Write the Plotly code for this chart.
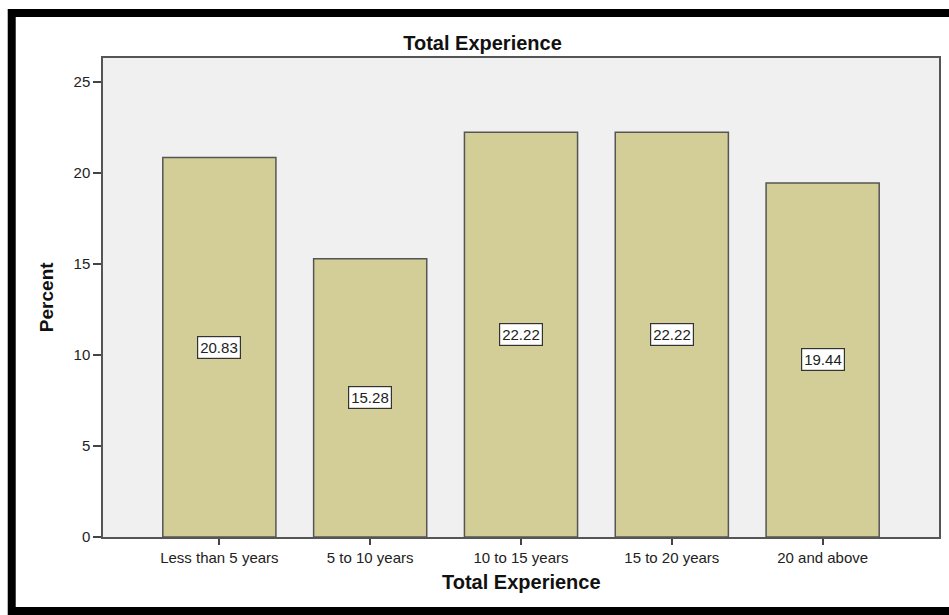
import plotly.graph_objects as go

categories = ["Less than 5 years", "5 to 10 years", "10 to 15 years", "15 to 20 years", "20 and above"]
percent = [20.83, 15.28, 22.22, 22.22, 19.44]
y_ticks = [0, 5, 10, 15, 20, 25]

W, H = 949, 615
L, R, T, B = 103, 941, 58, 537  # plot area pixel box

def px_x(p):
    return (p - L) / (R - L)

def px_y(p):
    return (B - p) / (B - T)

FONT = "Liberation Sans, Arial, sans-serif"

fig = go.Figure()
fig.add_trace(go.Bar(
    x=categories, y=percent, width=0.75,
    marker=dict(color="#d3ce97", line=dict(color="#555555", width=1.5)),
    hoverinfo="x+y",
))

for c, v in zip(categories, percent):
    fig.add_annotation(
        x=c, y=v / 2, xref="x", yref="y", text=f"{v:.2f}", showarrow=False,
        xanchor="center", yanchor="middle",
        font=dict(family=FONT, size=15, color="#222222"),
        bgcolor="white", bordercolor="#333333", borderwidth=1.2, borderpad=2,
    )

# axis titles
fig.add_annotation(x=px_x(522), y=px_y(582), xref="paper", yref="paper",
                   xanchor="center", yanchor="middle",
                   text="<b>Total Experience</b>", showarrow=False,
                   font=dict(family=FONT, size=20, color="#111111"))
fig.add_annotation(x=px_x(46), y=px_y(297), xref="paper", yref="paper",
                   xanchor="center", yanchor="middle",
                   text="<b>Percent</b>", showarrow=False, textangle=-90,
                   font=dict(family=FONT, size=19, color="#111111"))

# outer black frame (open on the right, as in the cropped original)
fig.add_shape(type="rect", xref="paper", yref="paper",
              x0=px_x(11.5), x1=px_x(990), y0=px_y(13), y1=px_y(611),
              line=dict(color="black", width=8), fillcolor="rgba(0,0,0,0)", layer="above")

fig.update_layout(
    width=W, height=H,
    margin=dict(l=L, r=W - R, t=T, b=H - B, pad=0),
    paper_bgcolor="white", plot_bgcolor="#f0f0f0",
    showlegend=False,
    title=dict(text="<b>Total Experience</b>", x=482.5 / W, y=1 - 43 / H,
               xref="container", yref="container", xanchor="center", yanchor="middle",
               font=dict(family=FONT, size=20, color="#111111")),
    font=dict(family=FONT, color="#222222"),
)
fig.update_xaxes(
    range=[-0.7715, 4.7715], showline=True, linecolor="#555555", linewidth=1.5, mirror=True,
    ticks="outside", ticklen=6, tickwidth=1.5, tickcolor="#444444",
    tickfont=dict(family=FONT, size=15, color="#222222"), showgrid=False, zeroline=False,
)
fig.update_yaxes(
    range=[0, 26.3], tickvals=y_ticks, showline=True, linecolor="#555555", linewidth=1.5, mirror=True,
    ticks="outside", ticklen=8, tickwidth=1.5, tickcolor="#444444",
    tickfont=dict(family=FONT, size=15, color="#222222"), showgrid=False, zeroline=False,
)

fig.write_html("out.html")
